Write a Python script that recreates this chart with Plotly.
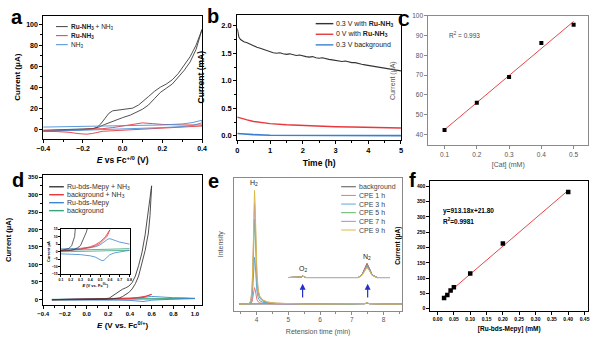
import plotly.graph_objects as go
import numpy as np

W, H = 600, 345
FONT = "Liberation Sans, Arial, sans-serif"

# ---------------- Panel a : CV ----------------
a_bk_E = [-0.40, -0.30, -0.20, -0.15, -0.13, -0.11, -0.09, -0.07, -0.05, -0.02, 0.00, 0.03, 0.05, 0.08, 0.10,
          0.13, 0.16, 0.19, 0.22, 0.25, 0.28, 0.31, 0.34, 0.37, 0.40,
          0.37, 0.34, 0.31, 0.28, 0.25, 0.22, 0.19, 0.16, 0.13, 0.10, 0.07, 0.04, 0.00, -0.03, -0.06,
          -0.09, -0.12, -0.15, -0.20, -0.30, -0.40]
a_bk_I = [-1.0, -0.5, 0.0, 0.5, 1.5, 5.0, 10.0, 15.0, 17.5, 18.3, 18.5, 19.0, 20.0, 23.0, 26.0,
          31.0, 36.0, 40.0, 43.0, 47.0, 53.0, 61.0, 69.0, 80.0, 95.0,
          76.0, 64.0, 56.0, 49.0, 43.0, 39.0, 35.0, 29.0, 23.0, 19.0, 16.0, 13.5, 11.0, 9.0, 7.0,
          4.5, 2.0, 0.5, -0.5, -1.5, -2.0]
a_rd_E = [-0.40, -0.30, -0.20, -0.10, -0.05, 0.00, 0.05, 0.10, 0.15, 0.20, 0.30, 0.40,
          0.40, 0.30, 0.20, 0.10, 0.00, -0.05, -0.10, -0.15, -0.18, -0.22, -0.27, -0.33, -0.40]
a_rd_I = [-1.5, -1.0, -0.5, 0.5, 1.5, 3.0, 5.0, 6.0, 5.3, 4.5, 4.0, 4.0,
          3.0, 2.0, 1.2, 0.5, -0.3, -1.0, -2.0, -4.0, -4.8, -4.3, -3.0, -2.3, -2.0]
a_bl_E = [-0.40, -0.20, 0.00, 0.20, 0.30, 0.35, 0.40, 0.40, 0.35, 0.30, 0.20, 0.00, -0.20, -0.40]
a_bl_I = [2.0, 2.5, 3.0, 4.0, 5.0, 6.2, 8.5, 6.0, 3.5, 2.5, 1.5, 0.0, -1.0, -2.0]

# ---------------- Panel b : CPE ----------------
b_t_bk = [0, 0.02, 0.05, 0.1, 0.2, 0.3, 0.4, 0.5, 0.6, 0.7, 0.8, 0.9, 1.0,
          1.1, 1.2, 1.3, 1.4, 1.5, 1.6, 1.7, 1.8, 1.9, 2.0,
          2.1, 2.2, 2.3, 2.4, 2.5, 2.6, 2.7, 2.8, 2.9, 3.0,
          3.1, 3.2, 3.3, 3.4, 3.5, 3.6, 3.7, 3.8, 3.9, 4.0,
          4.1, 4.2, 4.3, 4.4, 4.5, 4.6, 4.7, 4.8, 4.9, 5.0]
b_bk = [1.95, 1.87, 1.79, 1.75, 1.71, 1.69, 1.66, 1.64, 1.61, 1.59, 1.57, 1.55, 1.52,
        1.51, 1.50, 1.51, 1.49, 1.48, 1.49, 1.47, 1.46, 1.47, 1.45,
        1.44, 1.43, 1.44, 1.42, 1.41, 1.42, 1.40, 1.39, 1.38, 1.37,
        1.37, 1.35, 1.36, 1.34, 1.33, 1.33, 1.31, 1.30, 1.29, 1.28,
        1.27, 1.27, 1.25, 1.24, 1.23, 1.22, 1.21, 1.20, 1.19, 1.18]
b_t_rd = [0, 0.1, 0.2, 0.3, 0.5, 0.7, 1.0, 1.5, 2.0, 2.5, 3.0, 3.5, 4.0, 4.5, 5.0]
b_rd = [0.34, 0.32, 0.30, 0.29, 0.26, 0.24, 0.22, 0.20, 0.185, 0.175, 0.165, 0.16, 0.155, 0.145, 0.14]
b_t_bl = [0, 0.2, 0.5, 1.0, 2.0, 3.0, 4.0, 5.0]
b_bl = [0.04, 0.03, 0.02, 0.01, 0.005, 0.003, 0.002, 0.002]

# ---------------- Panel c : linear fit ----------------
c_cat = [0.1, 0.2, 0.3, 0.4, 0.5]
c_cur = [42.2, 56.0, 69.0, 86.2, 95.5]
c_r2 = "0.993"

# ---------------- Panel d : CV ----------------
d_bk_E = [-0.32, -0.10, 0.10, 0.18, 0.21, 0.24, 0.27, 0.30, 0.33, 0.36, 0.39, 0.42, 0.45, 0.48, 0.51, 0.54, 0.57, 0.60,
          0.585, 0.57, 0.54, 0.51, 0.48, 0.45, 0.42, 0.39, 0.36, 0.33, 0.30, 0.27, 0.24, 0.20, 0.10, -0.10, -0.32]
d_bk_I = [-0.5, 0, 0.8, 2, 4, 10, 18, 24, 29, 33, 38, 48, 67, 97, 133, 185, 250, 325,
          240, 190, 140, 100, 67, 45, 30, 20, 13, 8, 4, 2.5, 1.5, 0.8, 0, -1, -1.5]
d_rd_E = [-0.32, 0.0, 0.2, 0.3, 0.4, 0.45, 0.5, 0.55, 0.58, 0.60,
          0.57, 0.53, 0.5, 0.45, 0.4, 0.3, 0.2, 0.0, -0.32]
d_rd_I = [-0.5, 0.3, 1.0, 1.8, 3.2, 4.5, 6.5, 9.5, 12.5, 14.5,
          10, 7, 5.5, 3.8, 2.6, 1.5, 0.8, 0, -0.8]
d_bl_E = [-0.32, -0.1, 0.1, 0.3, 0.4, 0.45, 0.5, 0.55, 0.58, 0.6, 0.63, 0.67, 0.7, 0.8, 0.9, 1.0,
          1.0, 0.9, 0.8, 0.7, 0.65, 0.6, 0.57, 0.54, 0.52, 0.5, 0.45, 0.4, 0.3, 0.1, -0.1, -0.32]
d_bl_I = [-0.5, 0.5, 1.8, 2.2, 2.7, 3.2, 4.5, 6.8, 8.3, 8.6, 8.0, 7.0, 6.3, 5.0, 4.6, 4.5,
          3.0, 2.0, 1.0, 0.0, -0.8, -2.0, -3.8, -5.7, -6.0, -5.3, -3.6, -2.8, -2.0, -1.5, -1.5, -1.5]
d_gr_E = [-0.32, 0.0, 0.2, 0.4, 0.6, 0.8, 1.0, 1.0, 0.8, 0.6, 0.4, 0.2, 0.0, -0.32]
d_gr_I = [0.3, 0.6, 0.9, 1.2, 1.6, 2.0, 2.4, 1.6, 0.9, 0.5, 0.2, 0.0, -0.1, -0.2]
d_names = ["Ru-bds-Mepy + NH<sub>3</sub>", "background + NH<sub>3</sub>", "Ru-bds-Mepy", "background"]

# ---------------- Panel e : GC ----------------
e_t = [3.45, 3.75, 3.82, 3.86, 3.89, 3.915, 3.935, 3.955, 3.98, 4.01, 4.05, 4.10, 4.20, 4.35, 4.60, 5.00,
       5.40, 5.45, 5.50, 6.00, 7.00, 7.42, 7.48, 7.54, 8.00, 8.58]
e_bg = [0, 0, 0, 0, 0, 0, 0, 0, 0, 0, 0, 0, 0, 0, 0, 0, 0, 0.004, 0, 0, 0, 0.003, 0.010, 0.003, 0, 0]
e_c1 = [0, 0, 0.004, 0.02, 0.06, 0.11, 0.13, 0.115, 0.07, 0.036, 0.017, 0.009, 0.005, 0.002, 0.001, 0,
        0, 0.004, 0, 0, 0, 0.003, 0.010, 0.003, 0, 0]
e_c3 = [0, 0, 0.011, 0.055, 0.165, 0.315, 0.37, 0.325, 0.2, 0.1, 0.048, 0.026, 0.013, 0.007, 0.003, 0.001,
        0, 0.004, 0, 0, 0, 0.003, 0.010, 0.003, 0, 0]
e_c5 = [0, 0, 0.02, 0.10, 0.30, 0.57, 0.67, 0.59, 0.37, 0.19, 0.087, 0.047, 0.023, 0.012, 0.005, 0.002,
        0, 0.004, 0, 0, 0, 0.003, 0.010, 0.003, 0, 0]
e_c7 = [0, 0, 0.024, 0.12, 0.36, 0.68, 0.80, 0.70, 0.44, 0.22, 0.10, 0.056, 0.028, 0.014, 0.006, 0.002,
        0, 0.004, 0, 0, 0, 0.003, 0.010, 0.003, 0, 0]
e_c9 = [0, 0, 0.027, 0.135, 0.40, 0.765, 0.90, 0.79, 0.50, 0.25, 0.117, 0.063, 0.032, 0.016, 0.007, 0.003,
        0, 0.004, 0, 0, 0, 0.003, 0.010, 0.003, 0, 0]
# magnified (offset) trace
e_tz = [5.00, 5.35, 5.41, 5.45, 5.49, 5.55, 6.50, 7.20, 7.32, 7.40, 7.48, 7.56, 7.64, 7.80, 8.20]
e_bg_z = [0.21, 0.21, 0.215, 0.222, 0.215, 0.21, 0.21, 0.21, 0.232, 0.28, 0.322, 0.28, 0.232, 0.21, 0.21]
e_c1_z = [0.21, 0.21, 0.215, 0.222, 0.215, 0.21, 0.21, 0.21, 0.231, 0.276, 0.315, 0.276, 0.231, 0.21, 0.21]
e_c3_z = [0.21, 0.21, 0.215, 0.222, 0.215, 0.21, 0.21, 0.21, 0.230, 0.273, 0.308, 0.273, 0.230, 0.21, 0.21]
e_c5_z = [0.21, 0.21, 0.215, 0.222, 0.215, 0.21, 0.21, 0.21, 0.229, 0.269, 0.302, 0.269, 0.229, 0.21, 0.21]
e_c7_z = [0.21, 0.21, 0.215, 0.222, 0.215, 0.21, 0.21, 0.21, 0.228, 0.266, 0.296, 0.266, 0.228, 0.21, 0.21]
e_c9_z = [0.21, 0.21, 0.215, 0.222, 0.215, 0.21, 0.21, 0.21, 0.227, 0.262, 0.290, 0.262, 0.227, 0.21, 0.21]
e_names = ["background", "CPE 1 h", "CPE 3 h", "CPE 5 h", "CPE 7 h", "CPE 9 h"]
e_colors = ["#555555", "#e8777a", "#5fa8d8", "#5cb565", "#b784d8", "#d9b94a"]

# ---------------- Panel f : linear fit ----------------
f_conc = [0.02, 0.03, 0.04, 0.05, 0.10, 0.20, 0.40]
f_cur = [35, 45, 60, 70, 115, 213, 382]
f_slope, f_icpt, f_r2 = 913.18, 21.80, "0.9981"

# ================= figure =================
fig = go.Figure()

def px2x(p):
    return p / W

def py2y(p):
    return 1 - p / H

shapes, annos = [], []

def add(x, y, color, axn, width=1.0, name=None):
    xa = "x" if axn == 1 else "x%d" % axn
    ya = "y" if axn == 1 else "y%d" % axn
    fig.add_trace(go.Scatter(x=x, y=y, mode="lines", line=dict(color=color, width=width),
                             xaxis=xa, yaxis=ya, showlegend=False, name=name, hoverinfo="skip"))

BK, RD, BL, GR = "#3a3a3a", "#e8383d", "#3b86cf", "#3aa47c"

# a
add(a_bk_E, a_bk_I, "#3c3c3c", 1, 0.9)
add(a_rd_E, a_rd_I, RD, 1, 0.9)
add(a_bl_E, a_bl_I, "#4a8fd6", 1, 0.9)
# b
add(b_t_bk, b_bk, "#333333", 2, 1.1)
add(b_t_rd, b_rd, RD, 2, 1.4)
add(b_t_bl, b_bl, "#3b7fd0", 2, 1.6)
# c
cf = np.polyfit(c_cat, c_cur, 1)
cx = [min(c_cat), max(c_cat)]
add(cx, list(np.polyval(cf, cx)), "#e8474a", 3, 1.0)
fig.add_trace(go.Scatter(x=c_cat, y=c_cur, mode="markers", marker=dict(symbol="square", size=4, color="black"),
                         xaxis="x3", yaxis="y3", showlegend=False))
# d (main + inset)
for axn in (4, 5):
    w = 0.9 if axn == 4 else 0.8
    add(d_gr_E, d_gr_I, GR, axn, w)
    add(d_bl_E, d_bl_I, BL, axn, w)
    add(d_rd_E, d_rd_I, RD, axn, w)
    add(d_bk_E, d_bk_I, BK, axn, w)
# e
for ys, yz, c in zip([e_bg, e_c1, e_c3, e_c5, e_c7, e_c9],
                     [e_bg_z, e_c1_z, e_c3_z, e_c5_z, e_c7_z, e_c9_z], e_colors):
    add(e_t, ys, c, 6, 1.0)
    add(e_tz, yz, c, 6, 1.0)
# f
fx = [min(f_conc), max(f_conc)]
add(fx, [f_slope * v + f_icpt for v in fx], "#e8474a", 7, 1.0)
fig.add_trace(go.Scatter(x=f_conc, y=f_cur, mode="markers", marker=dict(symbol="square", size=4.5, color="black"),
                         xaxis="x7", yaxis="y7", showlegend=False))

# ---------- axes ----------
def axis(domain, rng, anchor, dtick=None, tick0=None, fmt=None, minor=None, dark=True, tsize=7,
         title=None, tfs=8, showticklabels=True, ticks="outside", standoff=None):
    col = "black" if dark else "#8a8a8a"
    tcol = "black" if dark else "#555555"
    d = dict(domain=domain, range=rng, anchor=anchor, showline=True, mirror=True, linecolor=col,
             linewidth=1, showgrid=False, zeroline=False, ticks=ticks, ticklen=3, tickwidth=1,
             tickcolor=col, showticklabels=showticklabels,
             tickfont=dict(family=FONT, size=tsize, color=tcol, weight="bold" if dark else "normal"))
    if dtick is not None:
        d["dtick"] = dtick
        d["tick0"] = tick0 if tick0 is not None else 0
    if fmt:
        d["tickformat"] = fmt
    if minor:
        d["minor"] = dict(dtick=minor, ticks="outside", ticklen=2, tickcolor=col, tickwidth=1,
                          tick0=d.get("tick0", 0))
    if title:
        d["title"] = dict(text=title, font=dict(family=FONT, size=tfs, color=tcol,
                                                weight="bold" if dark else "normal"))
        if standoff is not None:
            d["title"]["standoff"] = standoff
    return d

lay = {}
# a
lay["xaxis"] = axis([37 / W, 199 / W], [-0.4, 0.4], "y", 0.2, -0.4, ".1f", 0.1, True, 7,
                    "<i>E</i> vs Fc<sup>+/0</sup> (V)", 8.5, standoff=6)
lay["yaxis"] = axis([py2y(137), py2y(12)], [-9, 108], "x", 20, 0, None, 10, True, 7,
                    "Current (μA)", 8, standoff=4)
# b
lay["xaxis2"] = axis([235 / W, 402 / W], [0, 5], "y2", 1, 0, None, 0.5, True, 7.5, "Time (h)", 8.5, standoff=6)
lay["yaxis2"] = axis([py2y(138), py2y(11)], [-0.07, 2.2], "x2", 0.5, 0, ".1f", 0.25, True, 7.5,
                     "Current (mA)", 8.5)
# c
lay["xaxis3"] = axis([430 / W, 593 / W], [0.05, 0.545], "y3", 0.1, 0.1, ".1f", None, False, 6.5,
                     "[Cat] (mM)", 7, standoff=4)
lay["yaxis3"] = axis([py2y(144), py2y(12)], [34.4, 100], "x3", 10, 0, None, None, False, 6.5,
                     "Current (μA)", 7)
# d
lay["xaxis4"] = axis([37 / W, 199 / W], [-0.4, 1.065], "y4", 0.2, -0.4, ".1f", 0.1, True, 6,
                     "<i>E</i> (V vs. Fc<sup>0/+</sup>)", 8, standoff=6)
lay["yaxis4"] = axis([py2y(306), py2y(174)], [-15, 356], "x4", 50, 0, None, 25, True, 6,
                     "Current (μA)", 7.5)
# d inset
lay["xaxis5"] = axis([55 / W, 125 / W], [0.1, 0.8], "y5", 0.1, 0.1, ".1f", None, True, 3.5,
                     "<i>E</i> (V vs. Fc<sup>0/+</sup>)", 4, standoff=1)
lay["yaxis5"] = axis([py2y(275), py2y(229)], [-15, 15], "x5", 5, -15, None, None, True, 3.5,
                     "Current μA", 4, standoff=1)
lay["xaxis5"]["ticklen"] = 1.5
lay["yaxis5"]["ticklen"] = 1.5
# e
lay["xaxis6"] = axis([232 / W, 403 / W], [3.3, 8.58], "y6", 1, 0, None, 0.5, False, 6.5,
                     "Retension time (min)", 7, standoff=6)
lay["yaxis6"] = axis([py2y(312), py2y(177)], [-0.052, 1.0], "x6", None, None, None, None, False, 6.5,
                     "Intensity", 7, showticklabels=False, ticks="", standoff=8)
# f
lay["xaxis7"] = axis([432 / W, 593 / W], [-0.022, 0.461], "y7", 0.05, 0, ".2f", None, True, 5,
                     "[Ru-bds-Mepy] (mM)", 6.5, standoff=5)
lay["yaxis7"] = axis([py2y(312), py2y(180)], [-6, 418], "x7", 50, 0, None, None, True, 5,
                     "Current (μA)", 6.5)
fig.update_layout(**lay)

# ---------- manual legends ----------
def leg(x0, x1, y, color, text, size, tcol="#222222", lw=1.2, bold=False):
    shapes.append(dict(type="line", xref="paper", yref="paper", x0=px2x(x0), x1=px2x(x1),
                       y0=py2y(y), y1=py2y(y), line=dict(color=color, width=lw)))
    annos.append(dict(xref="paper", yref="paper", x=px2x(x1 + 1), y=py2y(y), text=text, showarrow=False,
                      xanchor="left", yanchor="middle",
                      font=dict(family=FONT, size=size, color=tcol, weight="bold" if bold else "normal")))

# a legend
a_names = ["<b>Ru-NH<sub>3</sub></b> + NH<sub>3</sub>", "<b>Ru-NH<sub>3</sub></b>", "NH<sub>3</sub>"]
for i, (c, n) in enumerate(zip(["#444444", RD, "#4a8fd6"], a_names)):
    leg(50, 62, 23 + i * 9.2, c, n, 6.5, lw=1.0)
# b legend
b_names = ["0.3 V with <b>Ru-NH<sub>3</sub></b>", "0 V with <b>Ru-NH<sub>3</sub></b>", "0.3 V background"]
for i, (c, n) in enumerate(zip(["#333333", RD, "#3b7fd0"], b_names)):
    leg(315, 333, 20 + i * 10.8, c, n, 7, lw=1.4)
# d legend
for i, (c, n) in enumerate(zip([BK, RD, BL, GR], d_names)):
    leg(43, 58, 186 + i * 8.1, c, n, 7, tcol="#333333", lw=1.4)
# e legend
for i, (c, n) in enumerate(zip(e_colors, e_names)):
    leg(341, 356, 186 + i * 8.8, c, n, 7, tcol="#444444", lw=1.0)

# ---------- text annotations ----------
annos.append(dict(xref="x3", yref="y3", x=0.107, y=90.2, text="R<sup>2</sup> = " + c_r2, showarrow=False,
                  xanchor="left", yanchor="middle", font=dict(family=FONT, size=6.5, color="#444444")))
annos.append(dict(xref="x7", yref="y7", x=0.012, y=320,
                  text="y=%.2fx+%.2f" % (f_slope, f_icpt), showarrow=False,
                  xanchor="left", yanchor="middle", font=dict(family=FONT, size=6.5, color="black", weight="bold")))
annos.append(dict(xref="x7", yref="y7", x=0.012, y=288,
                  text="R<sup>2</sup>=" + f_r2, showarrow=False,
                  xanchor="left", yanchor="middle", font=dict(family=FONT, size=6.5, color="black", weight="bold")))
for x, y, t in [(3.93, 0.96, "H<sub>2</sub>"), (5.45, 0.28, "O<sub>2</sub>"), (7.48, 0.37, "N<sub>2</sub>")]:
    annos.append(dict(xref="x6", yref="y6", x=x, y=y, text=t, showarrow=False, xanchor="center",
                      yanchor="middle", font=dict(family=FONT, size=7, color="#222222")))
for x in (5.45, 7.5):
    annos.append(dict(xref="x6", yref="y6", x=x, y=0.16, ax=x, ay=0.04, axref="x6", ayref="y6",
                      text="", showarrow=True, arrowhead=2, arrowsize=1, arrowwidth=1.2,
                      arrowcolor="#2430c8"))
# panel letters
for t, x, y in [("a", 3, 1), ("b", 203, 0), ("C", 398, 7), ("d", 4, 167), ("e", 204, 168), ("f", 409, 167)]:
    annos.append(dict(xref="paper", yref="paper", x=px2x(x), y=py2y(y), text="<b>%s</b>" % t,
                      showarrow=False, xanchor="left", yanchor="top", borderpad=0,
                      font=dict(family=FONT, size=20 if t != "C" else 16, color="black")))

fig.update_layout(width=W, height=H, margin=dict(l=0, r=0, t=0, b=0), paper_bgcolor="white",
                  plot_bgcolor="white", shapes=shapes, annotations=annos, showlegend=False,
                  font=dict(family=FONT))
fig.write_html("out.html")
